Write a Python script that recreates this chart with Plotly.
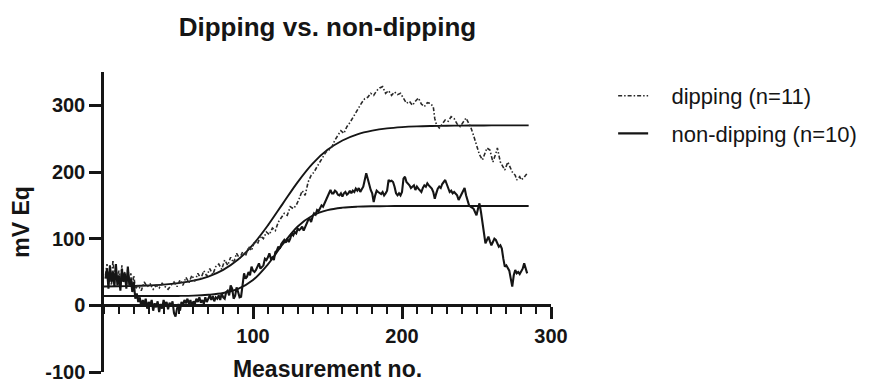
import plotly.graph_objects as go

# ---- data ----
dip_x = [1, 2, 3, 4, 5, 6, 7, 8, 9, 10, 11, 12, 13, 14, 15, 16, 17, 18, 19, 20,
         21, 23, 25, 27, 29, 31, 33, 35, 37, 39, 41, 43, 45, 47, 49, 51, 53, 55, 57, 59,
         61, 63, 65, 67, 69, 71, 73, 75, 77, 79, 81, 83, 85, 87, 89, 91, 93, 95, 97, 99,
         101, 103, 105, 107, 109, 111, 113, 115, 117, 119, 121, 123, 125, 127, 129, 131, 133, 135, 137, 139,
         141, 143, 145, 147, 149, 151, 153, 155, 157, 159, 161, 163, 165, 167, 169, 171, 173, 175, 177, 179,
         181, 183, 185, 187, 189, 191, 193, 195, 197, 199, 201, 203, 205, 207, 209, 211, 213, 215, 217, 219,
         221, 222, 223, 225, 227, 229, 231, 233, 235, 237, 239, 241, 243, 245, 246, 248, 250, 252, 254, 256,
         257, 259, 261, 263, 264, 266, 268, 269, 271, 273, 274, 276, 277, 279, 280, 282, 284]
dip_y = [45, 62, 38, 55, 30, 68, 42, 58, 35, 52, 28, 60, 40, 50, 32, 55, 38, 48, 30, 45,
         25, 30, 22, 35, 28, 32, 24, 30, 26, 33, 28, 24, 30, 35, 28, 38, 30, 42, 34, 45,
         36, 48, 40, 52, 44, 55, 46, 58, 62, 54, 68, 60, 72, 64, 78, 70, 80, 74, 88, 82,
         96, 92, 104, 100, 110, 106, 116, 112, 125, 132, 138, 135, 148, 145, 150, 160, 172, 165, 185, 195,
         200, 208, 215, 222, 230, 233, 238, 248, 255, 262, 258, 268, 274, 282, 290, 296, 304, 310, 312, 318,
         315, 322, 326, 328, 318, 322, 315, 320, 316, 318, 310, 303, 306, 300, 306, 311, 302, 298, 304, 303,
         298, 280, 272, 266, 272, 278, 276, 283, 280, 272, 268, 274, 281, 272, 268, 255, 240, 226, 218, 230,
         236, 233, 215, 228, 236, 215, 208, 203, 215, 205, 200, 195, 188, 193, 188, 192, 198]

nondip_y = [40, 55, 25, 60, 35, 50, 28, 62, 30, 45,
            22, 55, 35, 48, 25, 58, 30, 40, 20, 35,
            10, 18, 5, 12, -2, 8, 2, 10, -5, 5,
            0, 8, -8, 3, -3, 6, -10, 2, -5, 8,
            0, 5, -6, 4, -2, 6, -12, -17, -5, 2,
            -8, 5, 0, 8, 3, 10, 2, 8, -2, 6,
            2, 10, 5, 12, 4, 8, 2, 12, 5, 10,
            15, 8, 14, 6, 12, 10, 15, 8, 18, 12,
            10, 20, 22, 15, 30, 25, 10, 14, 27, 20,
            12, 13, 30, 48, 40, 43, 50, 45, 58, 52,
            50, 53, 58, 63, 55, 58, 60, 70, 68, 72,
            78, 70, 72, 68, 80, 82, 88, 85, 92, 95,
            98, 94, 100, 95, 100, 108, 105, 110, 108, 115,
            113, 115, 118, 112, 118, 122, 128, 130, 125, 133,
            138, 136, 143, 141, 145, 150, 148, 153, 160, 165,
            170, 173, 168, 168, 172, 170, 166, 165, 168, 163,
            168, 170, 166, 168, 172, 168, 172, 170, 175, 172,
            176, 170, 174, 178, 188, 198, 190, 180, 173, 168,
            155, 165, 172, 170, 168, 167, 170, 165, 168, 172,
            188, 186, 187, 185, 178, 168, 165, 168, 165, 170,
            190, 193, 185, 183, 180, 176, 178, 180, 173, 178,
            175, 172, 170, 176, 180, 178, 183, 180, 178, 175,
            170, 160, 168, 175, 178, 176, 182, 185, 188, 182,
            175, 170, 172, 168, 170, 168, 165, 158, 162, 168,
            172, 176, 165, 158, 150, 148, 146, 145, 140, 135,
            145, 153, 140, 123, 105, 93, 98, 103, 96, 90,
            95, 100, 98, 92, 88, 90, 85, 70, 58, 60,
            55, 52, 40, 28, 45, 53, 48, 50, 47, 52,
            55, 63, 55, 48]
nondip_x = list(range(1, len(nondip_y) + 1))

fit_x = [0, 10, 20, 30, 40, 50, 60, 70, 80, 90, 100, 110, 120, 130, 140, 150,
         160, 170, 180, 190, 200, 210, 220, 230, 240, 250, 260, 270, 280, 285]
dip_fit = [28.3, 28.6, 29.0, 29.8, 31.0, 33.3, 37.0, 43.2, 53.2, 68.6, 91.1, 120, 152.6, 184.9, 212.6, 233.2,
           247.3, 256.5, 262, 265.4, 267.3, 268.4, 269, 269.4, 269.6, 269.8, 269.9, 270, 270, 270]
nondip_fit = [14, 14, 14, 14, 14, 14.1, 14.5, 15.8, 18.5, 24.7, 38, 61.5, 91.6, 118.2, 134.8, 142.9,
              146.5, 148, 148.6, 148.8, 149, 149, 149, 149, 149, 149, 149, 149, 149, 149]

x_ticks = [100, 200, 300]
y_ticks = [-100, 0, 100, 200, 300]
y_tick_text = ["-100", "0", "100", "200", "300"]

names = ["dipping (n=11)", "non-dipping (n=10)"]

FONT = "Liberation Sans, Arial, sans-serif"
INK = "#151515"
PAD = "\u00a0\u00a0\u00a0"

# page body adds an 8px offset; plot area placed to match the reference
W, H = 865, 382

fig = go.Figure()
fig.add_trace(go.Scatter(x=fit_x, y=dip_fit, mode="lines", line=dict(color=INK, width=1.9, shape="spline"),
                         showlegend=False, hoverinfo="skip"))
fig.add_trace(go.Scatter(x=fit_x, y=nondip_fit, mode="lines", line=dict(color=INK, width=1.9, shape="spline"),
                         showlegend=False, hoverinfo="skip"))
fig.add_trace(go.Scatter(x=dip_x, y=dip_y, mode="lines", name=PAD + names[0], legendgroup="a",
                         line=dict(color="#2a2a2a", width=1.6, dash="4px,2px,1.5px,2px")))
fig.add_trace(go.Scatter(x=nondip_x, y=nondip_y, mode="lines", name=PAD + names[1], legendgroup="b",
                         line=dict(color=INK, width=2.1)))

fig.update_layout(
    width=W, height=H,
    margin=dict(l=96, r=322, t=64, b=18, autoexpand=False),
    paper_bgcolor="white", plot_bgcolor="white",
    font=dict(family=FONT, color=INK),
    title=dict(text="<b>Dipping vs. non-dipping</b>", font=dict(size=26, color=INK),
               x=0.5, xref="paper", xanchor="center", y=1 - 19 / H, yref="container", yanchor="middle"),
    legend=dict(x=1.139, y=0.99, xanchor="left", yanchor="top", font=dict(size=22, color=INK),
                traceorder="grouped", tracegroupgap=6, bgcolor="rgba(0,0,0,0)"),
    showlegend=True,
)

fig.update_xaxes(
    range=[0, 300], anchor="free", position=100 / 450, automargin=False,
    showline=True, linecolor=INK, linewidth=2.5,
    showgrid=False, zeroline=False,
    tickvals=x_ticks, ticks="outside", ticklen=12, tickwidth=2.5, tickcolor=INK,
    tickfont=dict(size=20, family=FONT, color=INK, weight="bold"),
    minor=dict(dtick=10, tick0=0, ticks="outside", ticklen=7, tickwidth=2, tickcolor=INK, showgrid=False),
    title=dict(text="<b>Measurement no.</b>", font=dict(size=23, color=INK), standoff=14),
)
fig.update_yaxes(
    range=[-100, 350], domain=[0, 1], automargin=False,
    showline=True, linecolor=INK, linewidth=2.5,
    showgrid=False, zeroline=False, ticklabeloverflow="allow",
    tickvals=y_ticks, ticktext=y_tick_text, ticks="outside", ticklen=12, tickwidth=2.5, tickcolor=INK,
    tickfont=dict(size=20, family=FONT, color=INK, weight="bold"),
    title=dict(text="<b>mV Eq</b>", font=dict(size=23, color=INK), standoff=18),
)

fig.write_html("out.html")
